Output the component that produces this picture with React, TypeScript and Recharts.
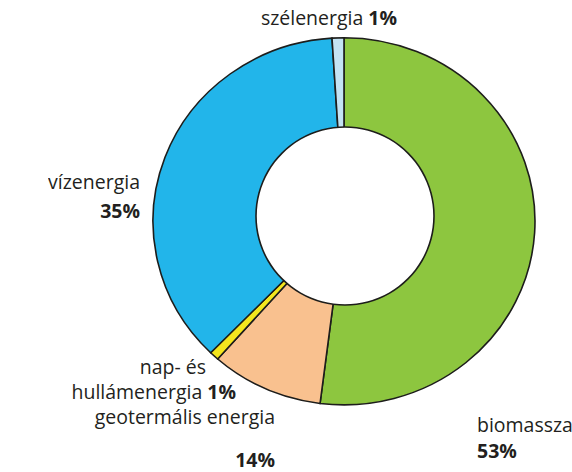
import React from 'react';
import { PieChart, Pie, Cell } from 'recharts';

// slices clockwise from 12 o'clock, values
const names = ['biomassza', 'geotermális energia', 'nap- és hullámenergia', 'vízenergia', 'szélenergia'];
const shares = [52, 9.5, 0.8, 36.7, 1.0];
// percentages as printed next to the slices
const printed = ['53%', '14%', '1%', '35%', '1%'];
const textLines = [['biomassza'], ['geotermális energia'], ['nap- és', 'hullámenergia'], ['vízenergia'], ['szélenergia']];

const COLORS = ['#8dc63f', '#f9c18f', '#f4e61e', '#22b5ea', '#c4e3f3'];
const INK = '#1d1d1b';

const data = names.map((name, i) => ({ name, value: shares[i] }));
const hole = [{ name: 'hole', value: 1 }];

// the printed ring is a little flatter than a circle
const SQUASH = 0.961;
const CX = 339;
const CY = 216.5;

// label anchor x and baselines per line (the % either trails the last line or sits on its own line)
const LABELS = [
  { x: 477, ys: [432, 458], anchor: 'start', pctOwnLine: true },
  { x: 275, ys: [424, 467], anchor: 'end', pctOwnLine: true },
  { x: 0, ys: [374, 399], xs: [206, 236], anchor: 'end', pctOwnLine: false },
  { x: 140, ys: [189, 218], anchor: 'end', pctOwnLine: true },
  { x: 329, ys: [25], anchor: 'middle', pctOwnLine: false },
];

const font = { fontFamily: '"Open Sans", sans-serif', fontSize: 19.5, fill: '#231f20' };

const renderLabel = (props: any) => {
  const i = props.index;
  const pos: any = LABELS[i];
  const lines = textLines[i];
  const xAt = (j: number) => (pos.xs ? pos.xs[j] : pos.x);
  return (
    <g key={`lbl-${i}`} transform={`scale(1, ${1 / SQUASH})`}>
      {lines.map((ln, j) => {
        const last = j === lines.length - 1;
        return (
          <text key={j} x={xAt(j)} y={pos.ys[j]} textAnchor={pos.anchor} style={font}>
            {ln}
            {last && !pos.pctOwnLine ? <tspan fontWeight="bold"> {printed[i]}</tspan> : null}
          </text>
        );
      })}
      {pos.pctOwnLine ? (
        <text x={pos.x} y={pos.ys[lines.length]} textAnchor={pos.anchor} style={font} fontWeight="bold">
          {printed[i]}
        </text>
      ) : null}
    </g>
  );
};

export default function App() {
  return (
    <div style={{ position: 'absolute', left: 0, top: 0, width: 572, height: 472, background: '#fff', overflow: 'hidden' }}>
      <div style={{ position: 'absolute', left: 0, top: 0, transform: `scaleY(${SQUASH})`, transformOrigin: '0 0' }}>
        <PieChart width={572} height={472 / SQUASH}>
          <Pie
            data={data}
            dataKey="value"
            nameKey="name"
            cx={CX}
            cy={CY / SQUASH}
            outerRadius={191}
            innerRadius={0}
            startAngle={90}
            endAngle={-270}
            stroke={INK}
            strokeWidth={1.6}
            label={renderLabel}
            labelLine={false}
            isAnimationActive={false}
          >
            {data.map((_, index) => (
              <Cell key={`cell-${index}`} fill={COLORS[index]} />
            ))}
          </Pie>
        </PieChart>
      </div>
      <div style={{ position: 'absolute', left: 0, top: 0 }}>
        <PieChart width={572} height={472}>
          {/* white centre and its thin outline */}
          <Pie
            data={hole}
            dataKey="value"
            cx={340}
            cy={211}
            outerRadius={89}
            innerRadius={0}
            fill="#ffffff"
            stroke="none"
            isAnimationActive={false}
          />
          <Pie
            data={hole}
            dataKey="value"
            cx={340}
            cy={211}
            outerRadius={89.8}
            innerRadius={88.2}
            fill={INK}
            stroke="none"
            isAnimationActive={false}
          />
        </PieChart>
      </div>
    </div>
  );
}
